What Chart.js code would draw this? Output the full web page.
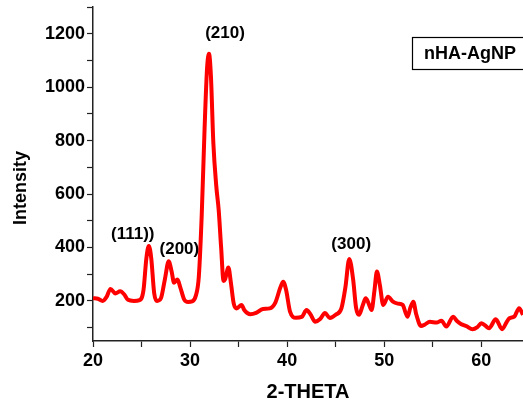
<!DOCTYPE html>
<html>
<head>
<meta charset="utf-8">
<script src="https://cdn.jsdelivr.net/npm/chart.js@4.4.1/dist/chart.umd.min.js"></script>
<style>
  html, body { margin: 0; padding: 0; background: #fff; }
  #wrap { width: 523px; height: 407px; position: relative; }
</style>
</head>
<body>
<div id="wrap"><canvas id="xrd"></canvas></div>
<script>
// 2-theta positions and intensities
const twoTheta = [
  20.0, 20.5, 21.0, 21.4, 21.8, 22.3, 22.8, 23.2, 23.6, 24.2, 24.8, 25.2, 25.5, 25.75, 26.0,
  26.3, 26.6, 27.0, 27.4, 27.8, 28.1, 28.35, 28.7, 29.0, 29.4, 29.8, 30.2, 30.6, 30.9, 31.2,
  31.5, 31.75, 31.95, 32.15, 32.4, 32.7, 32.95, 33.2, 33.45, 33.6, 33.95, 34.2, 34.5, 34.8, 35.3,
  35.6, 36.2, 36.8, 37.5, 38.2, 38.8, 39.3, 39.6, 39.9, 40.3, 40.9, 41.5, 42.0, 42.4, 42.9,
  43.4, 43.9, 44.4, 45.0, 45.6, 46.0, 46.4, 46.8, 47.1, 47.4, 47.8, 48.1, 48.4, 48.7, 49.0,
  49.25, 49.55, 49.9, 50.4, 50.9, 51.4, 51.9, 52.4, 52.7, 53.0, 53.3, 53.8, 54.2, 54.7, 55.4,
  55.9, 56.4, 57.1, 57.5, 57.9, 58.5, 59.1, 59.6, 60.0, 60.4, 60.8, 61.5, 62.15, 62.6, 62.9,
  63.4, 63.9, 64.3
];
const intensity = [
  210, 208, 200, 215, 245, 228, 236, 225, 204, 200, 203, 240, 360, 406, 360,
  230, 200, 210, 280, 348, 310, 268, 280, 250, 205, 196, 198, 220, 290, 520,
  850, 1070, 1125, 1040, 790, 630, 540, 400, 275, 280, 325, 270, 190, 172, 185,
  165, 150, 155, 170, 172, 195, 250, 272, 240, 160, 137, 140, 166, 150, 122,
  132, 155, 136, 148, 173, 250, 357, 280, 175, 148, 185, 210, 190, 166, 240,
  310, 260, 185, 216, 197, 190, 185, 141, 175, 197, 150, 106, 112, 122, 119,
  126, 104, 141, 125, 114, 105, 94, 102, 116, 108, 98, 131, 94, 120, 135,
  141, 173, 148
];

const xTicks = [20, 25, 30, 35, 40, 45, 50, 55, 60];
const yTicks = [100, 200, 300, 400, 500, 600, 700, 800, 900, 1000, 1100, 1200, 1300];

// peak labels (text, 2-theta, intensity where the label sits)
const peakNames = ["(111))", "(200)", "(210)", "(300)"];
const peakX = [24.1, 28.9, 33.6, 46.6];
const peakY = [448, 393, 1200, 410];

const sampleName = "nHA-AgNP";

const labelsPlugin = {
  id: "xrdLabels",
  afterDraw(chart) {
    const { ctx, scales } = chart;
    ctx.save();
    ctx.fillStyle = "#000";
    ctx.textAlign = "center";
    ctx.textBaseline = "middle";
    ctx.font = "bold 17px 'Liberation Sans', Arial, sans-serif";
    peakNames.forEach((name, i) => {
      ctx.fillText(name, scales.x.getPixelForValue(peakX[i]), scales.y.getPixelForValue(peakY[i]));
    });

    // sample box, runs off the right edge like the original
    ctx.font = "bold 18px 'Liberation Sans', Arial, sans-serif";
    ctx.strokeStyle = "#000";
    ctx.lineWidth = 1.2;
    ctx.strokeRect(412.5, 37.5, 130, 32);
    ctx.textAlign = "left";
    ctx.fillText(sampleName, 424, 54);

    // y title
    ctx.translate(21, 188);
    ctx.rotate(-Math.PI / 2);
    ctx.textAlign = "center";
    ctx.font = "bold 18px 'Liberation Sans', Arial, sans-serif";
    ctx.fillText("Intensity", 0, 0);
    ctx.restore();
  }
};

new Chart(document.getElementById("xrd"), {
  type: "line",
  data: {
    datasets: [
      {
        data: twoTheta.map((t, i) => ({ x: t, y: intensity[i] })),
        borderColor: "#ff0000",
        borderWidth: 4,
        pointRadius: 0,
        cubicInterpolationMode: "monotone",
        fill: false,
      },
    ],
  },
  options: {
    responsive: true,
    maintainAspectRatio: false,
    animation: false,
    layout: { padding: { top: 7, right: 0, left: 0, bottom: 0 } },
    plugins: { legend: { display: false }, tooltip: { enabled: false } },
    scales: {
      x: {
        type: "linear",
        min: 20,
        max: 64.3,
        afterBuildTicks: (s) => { s.ticks = xTicks.map((v) => ({ value: v })); },
        afterFit: (s) => { s.height = 66; s.paddingRight = 0; },
        border: { color: "#222", width: 1.5 },
        grid: { drawOnChartArea: false, color: "#222", tickLength: 6, tickWidth: 1.2 },
        ticks: {
          color: "#000",
          padding: 3,
          maxRotation: 0,
          font: { family: "'Liberation Sans', Arial, sans-serif", size: 18, weight: "bold" },
          callback: (v) => (v % 10 === 0 ? v : ""),
        },
        title: {
          display: true,
          text: "2-THETA",
          color: "#000",
          padding: { top: 0, bottom: 3 },
          font: { family: "'Liberation Sans', Arial, sans-serif", size: 20, weight: "bold" },
        },
      },
      y: {
        min: 50,
        max: 1300,
        afterBuildTicks: (s) => { s.ticks = yTicks.map((v) => ({ value: v })); },
        afterFit: (s) => { s.width = 93; s.paddingTop = 0; s.paddingBottom = 0; },
        border: { color: "#222", width: 1.5 },
        grid: { drawOnChartArea: false, color: "#222", tickLength: 6, tickWidth: 1.2 },
        ticks: {
          color: "#000",
          padding: 2,
          font: { family: "'Liberation Sans', Arial, sans-serif", size: 18, weight: "bold" },
          callback: (v) => (v % 200 === 0 ? v : ""),
        },
      },
    },
  },
  plugins: [labelsPlugin],
});
</script>
</body>
</html>
